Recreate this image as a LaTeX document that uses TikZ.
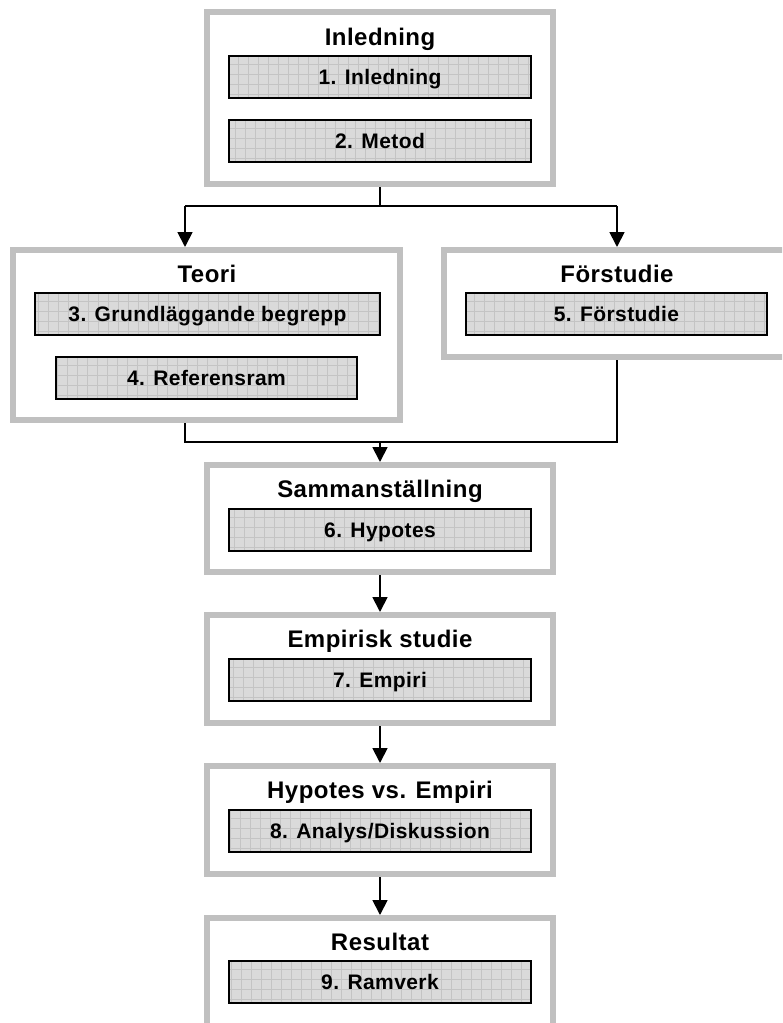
\documentclass[tikz,border=0pt]{standalone}
\usepackage{fontspec}
\newfontfamily\diagfont{Liberation Sans}[LetterSpace=2]
\usetikzlibrary{arrows.meta}
\definecolor{framegray}{RGB}{192,192,192}
\definecolor{cellfill}{RGB}{218,218,218}
\definecolor{cellgrid}{RGB}{196,196,196}
\tikzset{
  group/.style={draw=framegray, line width=6pt, fill=white, inner sep=0pt, outer sep=3pt},
  title/.style={anchor=base, inner sep=0pt, font=\diagfont\bfseries\fontsize{24}{27}\selectfont},
  chapter/.style={draw=black, line width=2pt, fill=cellfill, inner sep=0pt, outer sep=1pt,
    minimum height=42pt, text height=15pt, text depth=0pt,
    font=\diagfont\bfseries\fontsize{21}{24}\selectfont,
    path picture={\draw[cellgrid, line width=0.7pt, step=10pt]
      (path picture bounding box.south west) grid (path picture bounding box.north east);}},
  conn/.style={draw=black, line width=1.8pt},
  arr/.style={conn, -{Triangle[width=15pt, length=15pt]}}
}
\begin{document}
\begin{tikzpicture}[x=1pt, y=-1pt]
\useasboundingbox (0,0) rectangle (782,1023);
\clip (0,0) rectangle (782,1023);

% section frames
\node[group, minimum width=346pt, minimum height=172pt] (inl) at (380,98) {};
\node[group, minimum width=387pt, minimum height=170pt] (teori) at (206.5,335) {};
\node[group, minimum width=346pt, minimum height=107pt] (forst) at (617,303.5) {};
\node[group, minimum width=346pt, minimum height=107pt] (samman) at (380,518.5) {};
\node[group, minimum width=346pt, minimum height=108pt] (emp) at (380,669) {};
\node[group, minimum width=346pt, minimum height=108pt] (hyp) at (380,820) {};
\node[group, minimum width=346pt, minimum height=108pt] (res) at (380,972) {};

% section titles
\node[title] (tinl) at (380,45) {Inledning};
\node[title] (tteori) at (207,282) {Teori};
\node[title] (tforst) at (617,282) {Förstudie};
\node[title] (tsamman) at (380,497) {Sammanställning};
\node[title] (temp) at (380,647) {Empirisk studie};
\node[title] (thyp) at (380,798) {Hypotes vs. Empiri};
\node[title] (tres) at (380,950) {Resultat};

% chapters
\node[chapter, minimum width=302pt] (c1) at (380,76.5) {1. Inledning};
\node[chapter, minimum width=302pt] (c2) at (380,141) {2. Metod};
\node[chapter, minimum width=345pt] (c3) at (207.5,314) {3. Grundläggande begrepp};
\node[chapter, minimum width=301pt] (c4) at (206.5,378) {4. Referensram};
\node[chapter, minimum width=301pt] (c5) at (616.5,314) {5. Förstudie};
\node[chapter, minimum width=302pt] (c6) at (380,529.5) {6. Hypotes};
\node[chapter, minimum width=302pt] (c7) at (380,680) {7. Empiri};
\node[chapter, minimum width=302pt] (c8) at (380,830.5) {8. Analys/Diskussion};
\node[chapter, minimum width=302pt] (c9) at (380,982) {9. Ramverk};

% branching after the introduction
\coordinate (split) at (380,206);
\coordinate (splitl) at (185,206);
\coordinate (splitr) at (617,206);
\draw[conn] (inl.south) -- (split);
\draw[conn] (splitl) -- (splitr);
\draw[arr] (splitl) -- (splitl |- teori.north);
\draw[arr] (splitr) -- (splitr |- forst.north);

% joining theory and pre-study
\coordinate (join) at (380,442);
\coordinate (joinl) at (185,442);
\coordinate (joinr) at (617,442);
\draw[conn] (joinl |- teori.south) -- (joinl) -- (joinr) -- (joinr |- forst.south);
\draw[arr] (join) -- (samman.north);

% main sequence
\draw[arr] (samman.south) -- (emp.north);
\draw[arr] (emp.south) -- (hyp.north);
\draw[arr] (hyp.south) -- (res.north);
\end{tikzpicture}
\end{document}
